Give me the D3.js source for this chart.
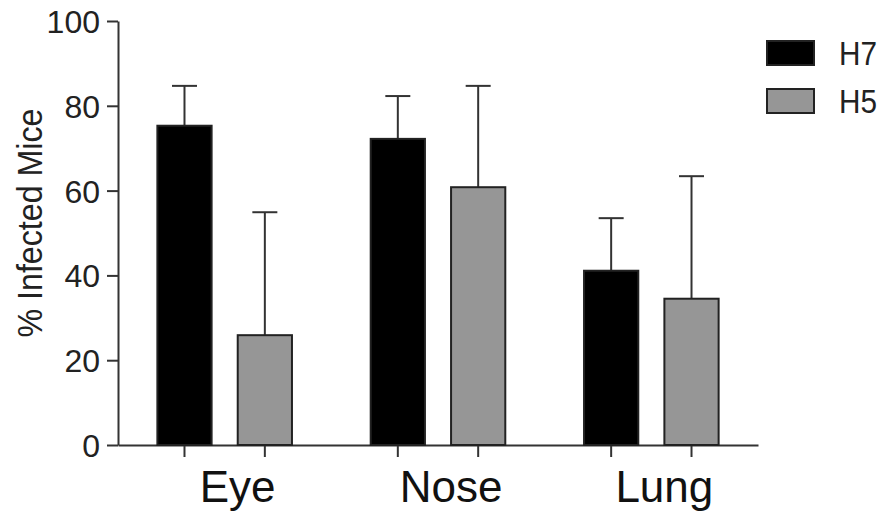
<!DOCTYPE html>
<html>
<head>
<meta charset="utf-8">
<script src="https://cdn.jsdelivr.net/npm/d3@7"></script>
<style>
  body { margin: 0; background: #fff; }
  svg { display: block; font-family: "Liberation Sans", Arial, sans-serif; }
  .axis path, .axis line { stroke: #333; stroke-width: 2px; }
  .axis text { font-size: 32px; fill: #222; }
</style>
</head>
<body>
<svg id="chart" width="885" height="514"></svg>
<script>
// data
var tissues = ["Eye", "Nose", "Lung"];
var strains = ["H7", "H5"];
var h7Mean = [75.3, 72.2, 41.1];
var h7Err  = [9.4, 10.1, 12.4];
var h5Mean = [25.9, 60.8, 34.5];
var h5Err  = [29.0, 23.9, 28.9];
var yTicks = [0, 20, 40, 60, 80, 100];

var colors = { H7: "#000000", H5: "#969696" };

var rows = [];
tissues.forEach(function (t, i) {
  rows.push({ tissue: t, strain: "H7", mean: h7Mean[i], err: h7Err[i] });
  rows.push({ tissue: t, strain: "H5", mean: h5Mean[i], err: h5Err[i] });
});

var svg = d3.select("#chart");
var plotLeft = 118, plotRight = 758, plotTop = 21, plotBottom = 445;

var x0 = d3.scaleBand().domain(tissues).range([plotLeft, plotRight]).padding(0);
var x1 = d3.scaleBand().domain(strains).range([0, x0.bandwidth()])
  .paddingInner(0.325).paddingOuter(0.49);
var y = d3.scaleLinear().domain([0, 100]).range([plotBottom, plotTop]);

function cx(d) { return x0(d.tissue) + x1(d.strain) + x1.bandwidth() / 2; }

// y axis
svg.append("g")
  .attr("class", "axis")
  .attr("transform", "translate(" + plotLeft + ",0)")
  .call(d3.axisLeft(y).tickValues(yTicks).tickSize(11).tickPadding(7).tickSizeOuter(0))
  .call(function (g) { g.selectAll("text").attr("dy", "0.36em"); });

// x axis baseline
svg.append("g")
  .attr("class", "axis")
  .attr("transform", "translate(0," + plotBottom + ")")
  .call(d3.axisBottom(x0).tickSize(0).tickSizeOuter(0).tickFormat(""));

// ticks under each bar
svg.append("g").selectAll("line").data(rows).enter()
  .append("line")
  .attr("x1", cx).attr("x2", cx)
  .attr("y1", plotBottom)
  .attr("y2", plotBottom + 12)
  .attr("stroke", "#333")
  .attr("stroke-width", 2);

// group labels
svg.append("g").selectAll("text").data(tissues).enter()
  .append("text")
  .attr("x", function (d) { return x0(d) + x0.bandwidth() / 2 + 13; })
  .attr("y", 502)
  .attr("text-anchor", "middle")
  .style("font-size", "44px")
  .attr("fill", "#111")
  .text(function (d) { return d; });

// y title
svg.append("text")
  .attr("transform", "translate(42,223) rotate(-90)")
  .attr("text-anchor", "middle")
  .style("font-size", "35px")
  .attr("textLength", 229)
  .attr("lengthAdjust", "spacingAndGlyphs")
  .attr("fill", "#222")
  .text("% Infected Mice");

// error bars (upper only)
var eb = svg.append("g").selectAll("g").data(rows).enter().append("g")
  .attr("stroke", "#333").attr("stroke-width", 2);
eb.append("line")
  .attr("x1", cx).attr("x2", cx)
  .attr("y1", function (d) { return y(d.mean); })
  .attr("y2", function (d) { return y(d.mean + d.err); });
eb.append("line")
  .attr("x1", function (d) { return cx(d) - 12.5; })
  .attr("x2", function (d) { return cx(d) + 12.5; })
  .attr("y1", function (d) { return y(d.mean + d.err); })
  .attr("y2", function (d) { return y(d.mean + d.err); });

// bars
svg.append("g").selectAll("rect").data(rows).enter()
  .append("rect")
  .attr("x", function (d) { return x0(d.tissue) + x1(d.strain); })
  .attr("y", function (d) { return y(d.mean); })
  .attr("width", x1.bandwidth())
  .attr("height", function (d) { return y(0) - y(d.mean); })
  .attr("fill", function (d) { return colors[d.strain]; })
  .attr("stroke", "#222")
  .attr("stroke-width", 2);

// legend
var legend = svg.append("g").selectAll("g").data(strains).enter().append("g")
  .attr("transform", function (d, i) { return "translate(767," + (41 + i * 48) + ")"; });
legend.append("rect")
  .attr("width", 47).attr("height", 24)
  .attr("fill", function (d) { return colors[d]; })
  .attr("stroke", "#222").attr("stroke-width", 2);
legend.append("text")
  .attr("x", 72).attr("y", 12).attr("dy", "0.36em")
  .style("font-size", "33px")
  .attr("textLength", 38)
  .attr("lengthAdjust", "spacingAndGlyphs")
  .attr("fill", "#222")
  .text(function (d) { return d; });
</script>
</body>
</html>
